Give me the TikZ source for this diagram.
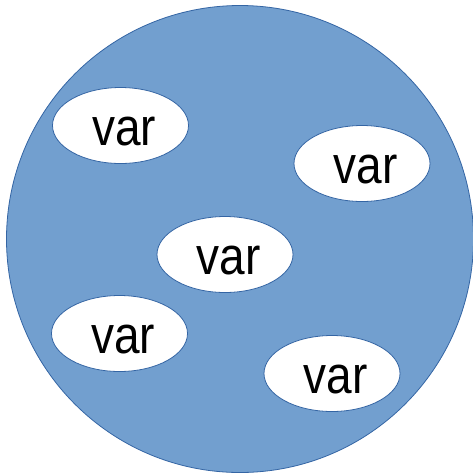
\documentclass[tikz,border=0pt]{standalone}
\usepackage{fontspec}
\setmainfont{Liberation Sans}
\usetikzlibrary{shapes.geometric}
\definecolor{poolfill}{HTML}{729FCF}
\definecolor{poolline}{HTML}{3465A4}
\tikzset{
  pool/.style={fill=poolfill, draw=poolline, line width=0.8pt},
  % the label sits a little right of and below the bubble's centre
  varbubble/.style={ellipse, fill=white, draw=poolline, line width=0.8pt,
    minimum width=136pt, minimum height=76pt, inner sep=0pt,
    text height=40.5pt, text depth=0pt,
    font=\fontsize{46}{46}\selectfont,
    execute at begin node={\hspace*{7pt}}}
}
\newcommand{\tallvar}{\scalebox{1}[1.15]{var}}
\begin{document}
\begin{tikzpicture}[x=1pt, y=-1pt]
  \useasboundingbox (0,0) rectangle (473,475);
  % the enclosing pool
  \node[pool, circle, minimum size=467pt, inner sep=0pt] (pool) at (240,239) {};
  % variables inside it
  \node[varbubble] (v1) at (120.5,125.5) {\tallvar};
  \node[varbubble] (v2) at (362,163.5) {\tallvar};
  \node[varbubble] (v3) at (225,254.5) {\tallvar};
  \node[varbubble] (v4) at (119.5,333.5) {\tallvar};
  \node[varbubble] (v5) at (332,373.5) {\tallvar};
\end{tikzpicture}
\end{document}
